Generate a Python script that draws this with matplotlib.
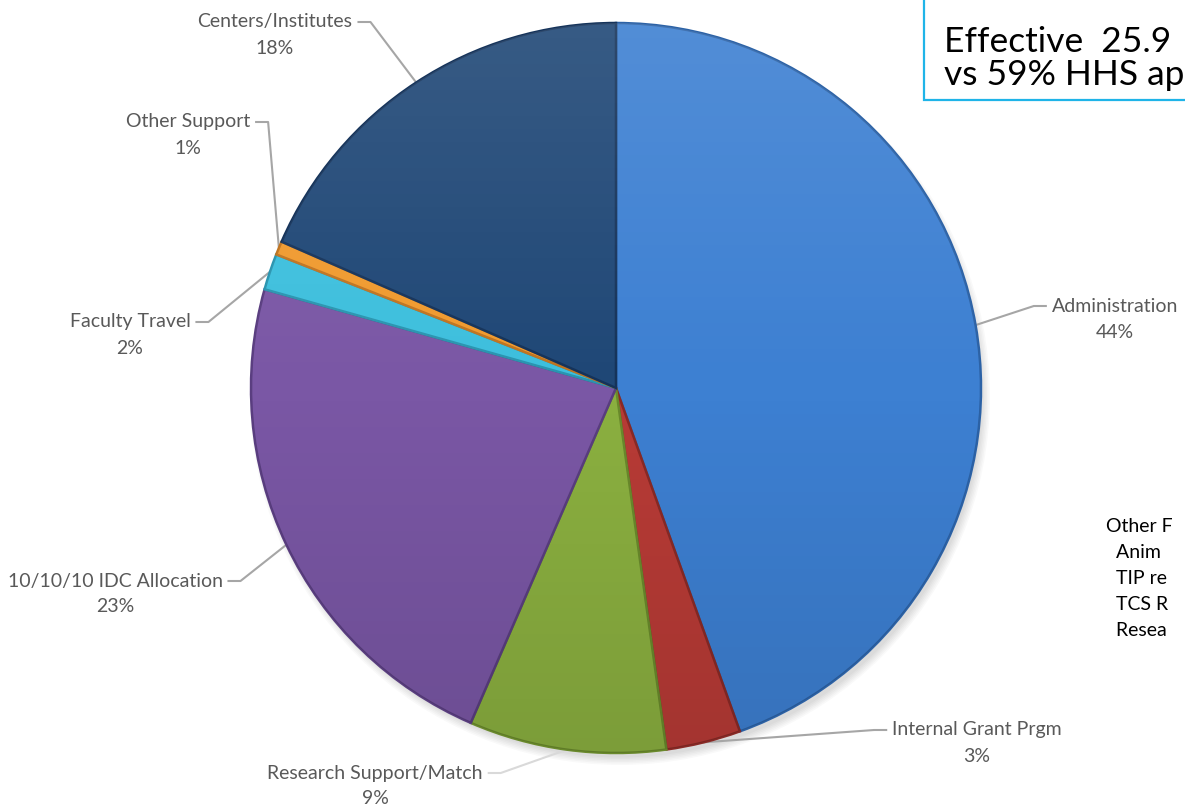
import numpy as np
import matplotlib.pyplot as plt
from matplotlib.patches import Rectangle, Circle, Ellipse

plt.rcParams["font.family"] = ["Lato", "DejaVu Sans"]

# ---------- data ----------
categories = ["Administration", "Internal Grant Prgm", "Research Support/Match",
              "10/10/10 IDC Allocation", "Faculty Travel", "Other Support",
              "Centers/Institutes"]
shares = [44.4, 3.3, 8.7, 22.8, 1.6, 0.6, 18.4]
colors = ["#3D80D2", "#B83B36", "#8BB040", "#7A57A5", "#3DBFDD", "#F09A2E", "#1F4776"]
edge_colors = ["#2C62A6", "#8A2A26", "#6A8A2C", "#5A3E80", "#2A95B0", "#C07420", "#15335A"]

# text that is visible in the (cropped) reference
box_lines = ["Effective  25.9", "vs 59% HHS ap"]
note_lines = ["Other F", "  Anim", "  TIP re", "  TCS R", "  Resea"]

# label anchor (x, y in pixels from top-left), side the leader line leaves from
label_pos = {
    "Administration": (1115, 306, "left"),
    "Internal Grant Prgm": (977, 730, "left"),
    "Research Support/Match": (375, 773, "right"),
    "10/10/10 IDC Allocation": (115, 581, "right"),
    "Faculty Travel": (130, 322, "right"),
    "Other Support": (188, 122, "right"),
    "Centers/Institutes": (275, 22, "right"),
}

W, H = 1185, 808
cx, cy, R = 616, H - 388, 365

fig = plt.figure(figsize=(W / 100, H / 100), dpi=100)
ax = fig.add_axes([0, 0, 1, 1])

# soft shadow
for k in range(6):
    ax.add_patch(Ellipse((cx + 4, cy - 8), 2 * R + 10 - k * 3, 2 * R + 8 - k * 3,
                         color="black", alpha=0.025, lw=0, zorder=0))

wedges, _ = ax.pie(shares, colors=colors, startangle=90, counterclock=False,
                   center=(cx, cy), radius=R, frame=True,
                   wedgeprops={"linewidth": 1.8, "antialiased": True})
for w, ec in zip(wedges, edge_colors):
    w.set_edgecolor(ec)
    w.set_zorder(2)

# light-from-top gradient over the pie
yy = np.linspace(1, 0, 256)[:, None] * np.ones((1, 4))
grad = np.zeros((256, 4, 4))
grad[..., :3] = np.where(yy[..., None] > 0.5, 1.0, 0.0)
grad[..., 3] = np.abs(yy - 0.5) * 0.22
im = ax.imshow(grad, extent=(cx - R, cx + R, cy - R, cy + R), origin="upper",
               zorder=3, interpolation="bilinear", aspect="auto")
im.set_clip_path(Circle((cx, cy), R, transform=ax.transData))

ax.set_xlim(0, W)
ax.set_ylim(0, H)
ax.set_aspect("equal")
ax.axis("off")

# labels with leader lines
total = sum(shares)
grey = "#595959"
for w, name, val in zip(wedges, categories, shares):
    mid = np.deg2rad((w.theta1 + w.theta2) / 2)
    ex, ey = cx + R * np.cos(mid), cy + R * np.sin(mid)
    lx, ly, side = label_pos[name]
    ly = H - ly
    pct = f"{round(val / total * 100):.0f}%"
    t = ax.text(lx, ly, name, ha="center", va="center", fontsize=14, color=grey, zorder=5)
    ax.text(lx, ly - 26, pct, ha="center", va="center", fontsize=14, color=grey, zorder=5)
    fig.canvas.draw()
    bb = ax.transData.inverted().transform(t.get_window_extent())
    if side == "right":
        x0 = bb[1, 0] + 6
        x1 = x0 + 12
    else:
        x0 = bb[0, 0] - 6
        x1 = x0 - 12
    lc = "#D9D9D9" if name == "Research Support/Match" else "#A6A6A6"
    ax.plot([x0, x1, ex], [ly, ly, ey], color=lc, lw=1.5, zorder=1)

# text box top right
ax.add_patch(Rectangle((924, H - 100), 400, 140, facecolor="white",
                       edgecolor="#1FB4E8", lw=1.6, zorder=6, clip_on=False))
ax.text(944, H - 42, box_lines[0], fontsize=25.5, color="black", va="center", ha="left", zorder=7)
ax.text(944, H - 75, box_lines[1], fontsize=25.5, color="black", va="center", ha="left", zorder=7)

# note lower right
for i, line in enumerate(note_lines):
    ax.text(1106, H - 527 - 26 * i, line, fontsize=14, color="black",
            va="center", ha="left", zorder=5)

fig.savefig("out.png", dpi=100)
